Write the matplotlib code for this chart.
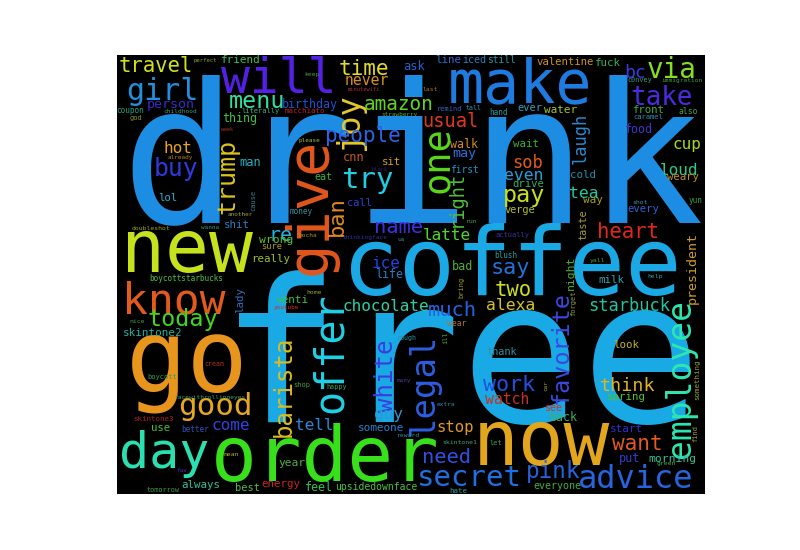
import matplotlib
matplotlib.use("Agg")
import matplotlib.pyplot as plt

# word frequencies (relative to the most frequent word)
words = [
    "free", "drink", "coffee", "go", "order", "now", "new", "make", "day",
    "will", "know", "give", "offer", "legal", "one", "try", "secret", "advice",
    "employee", "joy", "good", "girl", "via", "trump", "barista", "white",
    "take", "buy", "favorite", "menu", "pay", "today", "pink", "work", "people",
    "time", "say", "want", "heart", "travel", "two", "name", "much", "need",
    "ban", "re", "amazon", "usual", "right", "bc", "sob", "think", "starbuck",
    "laugh", "alexa", "even", "tea", "cup", "loud", "latte", "chocolate",
    "hot", "come", "ice", "guy", "tell", "stop", "never", "watch", "person",
    "may", "president", "man", "ask", "walk", "thing", "birthday", "cnn",
    "friend", "food", "back", "life", "bad", "put", "wrong", "morning",
    "night", "sure", "wait", "line", "fuck", "skintone2", "cold", "water",
    "way", "shit", "lady", "valentine", "eat", "really", "venti", "weary",
    "drive", "front", "every", "spring", "start", "milk", "look", "year",
    "energy", "always", "someone", "use", "lol", "sit", "call", "verge",
    "taste", "ever", "thank", "best", "feel", "iced", "everyone", "see",
    "first", "still", "upsidedownface", "also", "hand", "coupon", "better",
    "boycottstarbucks", "money", "yun", "macchiato", "hate", "skintone3",
    "something", "blush", "wear", "caramel", "boycott", "literally", "god",
    "cause", "bring", "remind", "actually", "ill", "forget", "let", "find",
    "c0nvey", "skintone1", "happy", "tomorrow", "shop", "rough", "cream",
    "tall", "last", "keep", "mean", "nice", "home", "shot", "yall", "help",
    "green", "reward", "thinkingface", "us", "run", "doubleshot", "wanna",
    "immigration", "childhood", "extra", "mocha", "facewithrollingeyes",
    "already", "another", "youtube", "strawberry", "many", "fav", "car",
    "please", "perfect", "minutewifi", "black", "week",
]
weights = [
    1.000, 0.970, 0.470, 0.510, 0.380, 0.380, 0.365, 0.300, 0.250,
    0.240, 0.215, 0.285, 0.200, 0.170, 0.185, 0.145, 0.145, 0.160,
    0.165, 0.160, 0.155, 0.150, 0.138, 0.125, 0.120, 0.120,
    0.130, 0.123, 0.117, 0.117, 0.117, 0.117, 0.113, 0.108, 0.105,
    0.105, 0.109, 0.105, 0.103, 0.103, 0.103, 0.102, 0.102, 0.102,
    0.110, 0.100, 0.097, 0.093, 0.093, 0.090, 0.085, 0.092, 0.085,
    0.085, 0.082, 0.082, 0.082, 0.080, 0.080, 0.080, 0.080,
    0.080, 0.080, 0.080, 0.080, 0.080, 0.078, 0.074, 0.074, 0.067,
    0.067, 0.067, 0.060, 0.060, 0.058, 0.058, 0.058, 0.060,
    0.055, 0.058, 0.058, 0.058, 0.059, 0.059, 0.057, 0.057,
    0.057, 0.044, 0.054, 0.054, 0.054, 0.055, 0.054, 0.055,
    0.055, 0.054, 0.054, 0.053, 0.050, 0.054, 0.055, 0.053,
    0.053, 0.053, 0.053, 0.054, 0.055, 0.054, 0.054, 0.056,
    0.054, 0.054, 0.055, 0.053, 0.053, 0.053, 0.052, 0.051,
    0.051, 0.052, 0.051, 0.052, 0.058, 0.050, 0.050, 0.050,
    0.048, 0.048, 0.049, 0.041, 0.039, 0.038, 0.038,
    0.038, 0.038, 0.038, 0.037, 0.037, 0.037,
    0.037, 0.038, 0.041, 0.036, 0.036, 0.036, 0.035,
    0.035, 0.035, 0.035, 0.035, 0.035, 0.035, 0.035, 0.035,
    0.034, 0.032, 0.034, 0.034, 0.035, 0.033, 0.033,
    0.033, 0.032, 0.032, 0.032, 0.032, 0.032, 0.032, 0.032, 0.032,
    0.032, 0.032, 0.031, 0.032, 0.032, 0.032, 0.030,
    0.031, 0.031, 0.031, 0.031, 0.031,
    0.030, 0.030, 0.030, 0.030, 0.030, 0.030, 0.030,
    0.030, 0.028, 0.027, 0.027, 0.025,
]

# word cloud placement: centre x / baseline y in image pixels, rotation, colour
# (vertical words: baseline x, centre y)
layout = {
    "free": (461, 422, 0, "#19a9e5"),
    "drink": (412, 222, 0, "#1c8de2"),
    "coffee": (512, 295, 0, "#1aa9e5"),
    "go": (187, 393, 0, "#e8951e"),
    "order": (325, 481, 0, "#38e01c"),
    "now": (541, 465, 0, "#e2a61e"),
    "new": (187, 272, 0, "#c6e21c"),
    "make": (520, 102, 0, "#1e7be0"),
    "day": (164, 468, 0, "#2be0b0"),
    "will": (279, 93, 0, "#5520e6"),
    "know": (174, 313, 0, "#e25a1c"),
    "give": (326, 206, 90, "#e2561c"),
    "offer": (342, 353, 90, "#1ed2e8"),
    "legal": (433, 385, 90, "#2b5fe0"),
    "one": (448, 160, 90, "#5ad81a"),
    "try": (367, 188, 0, "#1ed0e6"),
    "secret": (469, 486, 0, "#1f6fe0"),
    "advice": (636, 488, 0, "#2566e0"),
    "employee": (690, 378, 90, "#2ee6b0"),
    "joy": (358, 122, 90, "#e6c828"),
    "good": (215, 415, 0, "#e6a81e"),
    "girl": (162, 100, 0, "#2290dc"),
    "via": (672, 78, 0, "#84e01e"),
    "trump": (234, 177, 90, "#dcc41e"),
    "barista": (291, 386, 90, "#dcbc1e"),
    "white": (393, 376, 90, "#3c3ce0"),
    "take": (662, 105, 0, "#4a2ae2"),
    "buy": (176, 176, 0, "#3038e0"),
    "favorite": (568, 347, 90, "#3a48e0"),
    "menu": (257, 108, 0, "#30e0a0"),
    "pay": (524, 202, 0, "#c8e020"),
    "today": (183, 326, 0, "#42d61e"),
    "pink": (553, 478, 0, "#2a62dc"),
    "work": (509, 391, 0, "#2250e0"),
    "people": (363, 142, 0, "#2f62e6"),
    "time": (364, 75, 0, "#e2dc22"),
    "say": (510, 274, 0, "#2272dc"),
    "want": (637, 450, 0, "#e25a1e"),
    "heart": (628, 238, 0, "#e0261e"),
    "travel": (156, 72, 0, "#d4e21c"),
    "two": (513, 296, 0, "#cce020"),
    "name": (399, 233, 0, "#4030e0"),
    "much": (452, 316, 0, "#2462e0"),
    "need": (447, 463, 0, "#3250e0"),
    "ban": (343, 216, 90, "#e08a1e"),
    "re": (280, 241, 0, "#22b4e0"),
    "amazon": (399, 110, 0, "#62d41c"),
    "usual": (450, 127, 0, "#e0381e"),
    "right": (462, 199, 90, "#4ec03a"),
    "bc": (635, 78, 0, "#3a3ae0"),
    "sob": (528, 168, 0, "#e25a1e"),
    "think": (628, 391, 0, "#e2b420"),
    "starbuck": (629, 311, 0, "#22c4a0"),
    "laugh": (586, 138, 90, "#2c8ad4"),
    "alexa": (511, 310, 0, "#d8c420"),
    "even": (524, 180, 0, "#24a0d8"),
    "tea": (584, 198, 0, "#22c8a0"),
    "cup": (687, 149, 0, "#a8d81e"),
    "loud": (679, 175, 0, "#2ec888"),
    "latte": (447, 240, 0, "#52d62a"),
    "chocolate": (386, 311, 0, "#2ed0a4"),
    "hot": (178, 153, 0, "#e6a420"),
    "come": (231, 430, 0, "#3440e0"),
    "ice": (386, 268, 0, "#2042e0"),
    "guy": (388, 419, 0, "#2c9ad0"),
    "tell": (314, 430, 0, "#2c86d8"),
    "stop": (455, 432, 0, "#e09a1e"),
    "never": (367, 85, 0, "#d89020"),
    "watch": (507, 404, 0, "#c83020"),
    "person": (171, 108, 0, "#3a2ac8"),
    "may": (464, 157, 0, "#2a70d8"),
    "president": (696, 268, 90, "#d0a020"),
    "man": (250, 166, 0, "#20b0c0"),
    "ask": (414, 70, 0, "#2462d4"),
    "walk": (464, 148, 0, "#d09020"),
    "thing": (240, 122, 0, "#44c040"),
    "birthday": (310, 108, 0, "#2050d0"),
    "cnn": (354, 161, 0, "#c05a20"),
    "friend": (241, 63, 0, "#3ac060"),
    "food": (639, 133, 0, "#4a30d0"),
    "back": (564, 421, 0, "#40b060"),
    "life": (389, 278, 0, "#2080c0"),
    "bad": (463, 270, 0, "#50b030"),
    "put": (630, 462, 0, "#3040d0"),
    "wrong": (276, 243, 0, "#60c020"),
    "morning": (672, 462, 0, "#30c0a0"),
    "night": (574, 273, 90, "#50b030"),
    "sure": (272, 249, 0, "#a0a020"),
    "wait": (526, 147, 0, "#3cb040"),
    "line": (448, 63, 0, "#2e70d0"),
    "fuck": (608, 66, 0, "#30b060"),
    "skintone2": (153, 336, 0, "#20b0a0"),
    "cold": (583, 178, 0, "#2090a8"),
    "water": (561, 113, 0, "#a6c42c"),
    "way": (593, 203, 0, "#a8a020"),
    "shit": (237, 228, 0, "#2a80c0"),
    "lady": (243, 300, 90, "#3070c0"),
    "valentine": (565, 65, 0, "#d09020"),
    "eat": (323, 180, 0, "#40b040"),
    "really": (271, 262, 0, "#a0c030"),
    "venti": (292, 303, 0, "#40c040"),
    "weary": (683, 180, 0, "#c09020"),
    "drive": (528, 187, 0, "#30b060"),
    "front": (648, 113, 0, "#40b040"),
    "every": (643, 212, 0, "#3060d0"),
    "spring": (626, 400, 0, "#50c030"),
    "start": (626, 432, 0, "#3030d0"),
    "milk": (611, 283, 0, "#2aa0b0"),
    "look": (626, 348, 0, "#c0b030"),
    "year": (292, 466, 0, "#50b040"),
    "energy": (281, 487, 0, "#d02020"),
    "always": (201, 488, 0, "#30c0a0"),
    "someone": (381, 431, 0, "#2a80d0"),
    "use": (161, 431, 0, "#50c030"),
    "lol": (168, 201, 0, "#22b0d0"),
    "sit": (391, 165, 0, "#d0a020"),
    "call": (359, 206, 0, "#3040d0"),
    "verge": (520, 213, 0, "#b0c020"),
    "taste": (586, 225, 90, "#a8a030"),
    "ever": (530, 111, 0, "#2ca0c4"),
    "thank": (502, 355, 0, "#3090a0"),
    "best": (247, 491, 0, "#50c040"),
    "feel": (319, 491, 0, "#34c050"),
    "iced": (474, 63, 0, "#2282c0"),
    "everyone": (557, 489, 0, "#40b040"),
    "see": (553, 411, 0, "#d83020"),
    "first": (464, 173, 0, "#2090c0"),
    "still": (501, 63, 0, "#2a92a4"),
    "upsidedownface": (376, 490, 0, "#50c040"),
    "also": (688, 114, 0, "#40a050"),
    "hand": (498, 115, 0, "#20a0a0"),
    "coupon": (130, 113, 0, "#20a080"),
    "better": (195, 432, 0, "#3050c0"),
    "boycottstarbucks": (186, 281, 0, "#50c040"),
    "money": (301, 214, 0, "#3090a0"),
    "yun": (696, 203, 0, "#40a040"),
    "macchiato": (305, 113, 0, "#c02020"),
    "hate": (458, 493, 0, "#30a0a0"),
    "skintone3": (154, 421, 0, "#b02020"),
    "something": (699, 380, 90, "#a0a030"),
    "blush": (506, 258, 0, "#30a0a0"),
    "wear": (457, 326, 0, "#b07030"),
    "caramel": (648, 119, 0, "#3090b0"),
    "boycott": (162, 379, 0, "#30a050"),
    "literally": (261, 113, 0, "#30b090"),
    "god": (136, 120, 0, "#8a8a20"),
    "cause": (255, 200, 90, "#308090"),
    "bring": (463, 287, 90, "#a0a020"),
    "remind": (450, 111, 0, "#3060c0"),
    "actually": (513, 237, 0, "#4030a0"),
    "ill": (447, 338, 90, "#50a040"),
    "forget": (575, 303, 90, "#90a030"),
    "let": (496, 445, 0, "#40a050"),
    "find": (697, 433, 90, "#a0a030"),
    "c0nvey": (640, 82, 0, "#30a080"),
    "skintone1": (460, 444, 0, "#40a080"),
    "happy": (337, 389, 0, "#40a060"),
    "tomorrow": (163, 492, 0, "#40a040"),
    "shop": (302, 387, 0, "#40a040"),
    "rough": (407, 340, 0, "#3090a0"),
    "cream": (214, 366, 0, "#b03020"),
    "tall": (474, 110, 0, "#2a90a0"),
    "last": (430, 91, 0, "#b07020"),
    "keep": (312, 76, 0, "#40a040"),
    "mean": (231, 456, 0, "#b0b020"),
    "nice": (137, 323, 0, "#40a040"),
    "home": (314, 294, 0, "#a0a030"),
    "shot": (640, 204, 0, "#3090a0"),
    "yall": (597, 262, 0, "#40a040"),
    "help": (655, 278, 0, "#30a0a0"),
    "green": (666, 465, 0, "#40b040"),
    "reward": (409, 437, 0, "#3090a0"),
    "thinkingface": (365, 239, 0, "#3030a0"),
    "us": (401, 241, 0, "#3090a0"),
    "run": (472, 223, 0, "#40a040"),
    "doubleshot": (151, 230, 0, "#a0a020"),
    "wanna": (210, 229, 0, "#30a080"),
    "immigration": (682, 82, 0, "#40a040"),
    "childhood": (180, 113, 0, "#30a080"),
    "extra": (446, 406, 0, "#3090a0"),
    "mocha": (308, 237, 0, "#b09020"),
    "facewithrollingeyes": (210, 399, 0, "#40a060"),
    "already": (180, 159, 0, "#c08020"),
    "another": (240, 216, 0, "#a0a040"),
    "youtube": (286, 309, 0, "#d03020"),
    "strawberry": (400, 116, 0, "#50b030"),
    "many": (404, 382, 0, "#4a3aa0"),
    "fav": (182, 472, 0, "#4030c0"),
    "car": (547, 386, 90, "#a0a030"),
    "please": (309, 142, 0, "#a0c040"),
    "perfect": (205, 62, 0, "#90a020"),
    "minutewifi": (364, 91, 0, "#a03030"),
    "black": (380, 171, 0, "#302080"),
    "week": (227, 131, 0, "#b03030"),
}

MAX_PX = 200  # font size (pixels) of the most frequent word
DPI = 100

fig = plt.figure(figsize=(8, 5.5), dpi=DPI)
ax = fig.add_axes([117 / 800, 56 / 550, 588 / 800, 439 / 550])
ax.set_xlim(117, 705)
ax.set_ylim(494, 55)
ax.set_facecolor("black")
ax.set_xticks([])
ax.set_yticks([])
for s in ax.spines.values():
    s.set_visible(False)

for w, f in zip(words, weights):
    x, y, rot, col = layout[w]
    ax.text(x, y, w, fontsize=f * MAX_PX * 72 / DPI, color=col,
            family="DejaVu Sans Mono", rotation=rot, rotation_mode="anchor",
            ha="center", va="baseline", clip_on=True)

fig.savefig("out.png", dpi=DPI)
